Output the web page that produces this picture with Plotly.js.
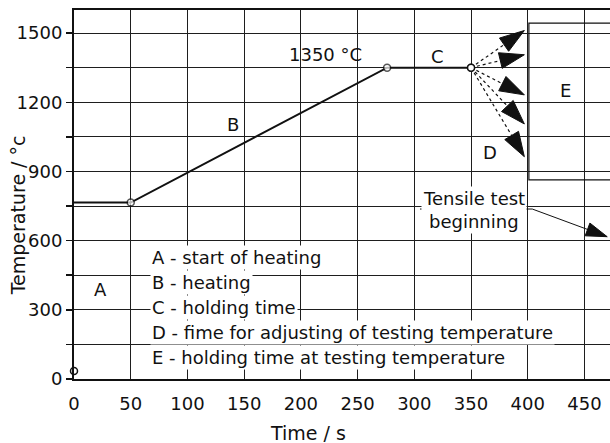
<!DOCTYPE html>
<html>
<head>
<meta charset="utf-8">
<script src="https://cdn.plot.ly/plotly-3.0.1.min.js"></script>
<style>html,body{margin:0;padding:0;background:#fff;}#chart{width:610px;height:443px;}</style>
</head>
<body>
<div id="chart"></div>
<script>
// ---- data ----
const startTime = [0];
const startTemp = [35];
const cycleTime = [0, 50, 276, 350];
const cycleTemp = [765, 765, 1350, 1350];
const cycleMarker = [0, 7, 7, 7];

const arrowStartTime = 350;
const arrowStartTemp = 1350;
const arrowTipTime = [397, 397, 397, 397, 397];
const arrowTipTemp = [1511, 1406, 1232, 1106, 964];

const tensileTime = [305, 404, 470];
const tensileTemp = [737, 737, 617];

const holdBoxTime = [401, 490];
const holdBoxTemp = [863, 1543];

const xTicks = [0, 50, 100, 150, 200, 250, 300, 350, 400, 450];
const yTicks = [0, 300, 600, 900, 1200, 1500];

const legendLines = [
  "A - start of heating",
  "B - heating",
  "C - holding time",
  "D - fime for adjusting of testing temperature",
  "E - holding time at testing temperature"
];
const legendTemp = [529, 420, 311, 202, 94];

const stageLabels = ["A", "B", "C", "D", "E", "1350 °C"];
const stageTime = [23, 140, 320, 367, 433, 222];
const stageTemp = [386, 1102, 1398, 982, 1249, 1405];

// ---- styles ----
const FONT = "DejaVu Sans";
const INK = "#111";
const GRID = "#1e1e1e";

const traces = [];
traces.push({
  x: cycleTime, y: cycleTemp, mode: "lines+markers", type: "scatter",
  line: {color: INK, width: 2},
  marker: {symbol: "circle", size: cycleMarker, color: "#fff", line: {color: INK, width: 1.5}},
  hoverinfo: "skip"
});
traces.push({
  x: startTime, y: startTemp, mode: "markers", type: "scatter",
  marker: {symbol: "circle", size: 7, color: "#fff", line: {color: INK, width: 1.5}},
  cliponaxis: false, hoverinfo: "skip"
});
for (let i = 0; i < arrowTipTime.length; i++) {
  traces.push({
    x: [arrowStartTime, arrowTipTime[i]], y: [arrowStartTemp, arrowTipTemp[i]],
    mode: "lines+markers", type: "scatter",
    line: {color: INK, width: 1.2, dash: "dot"},
    marker: {symbol: "arrow", angleref: "previous", size: [0, 26], color: INK, opacity: 1,
             line: {color: INK, width: 1}},
    cliponaxis: false, hoverinfo: "skip"
  });
}
traces.push({
  x: tensileTime, y: tensileTemp, mode: "lines+markers", type: "scatter",
  line: {color: INK, width: 1},
  marker: {symbol: "arrow", angleref: "previous", size: [0, 0, 22], color: INK, opacity: 1,
           line: {color: INK, width: 1}},
  cliponaxis: false, hoverinfo: "skip"
});
// circle at the end of holding, drawn over the arrow shafts
traces.push({
  x: [cycleTime[3]], y: [cycleTemp[3]], mode: "markers", type: "scatter",
  marker: {symbol: "circle", size: 7, color: "#fff", line: {color: INK, width: 1.5}},
  hoverinfo: "skip"
});

const annotations = [];
legendLines.forEach((t, i) => annotations.push({
  x: 67, y: legendTemp[i], xref: "x", yref: "y", text: t, showarrow: false,
  xanchor: "left", yanchor: "middle", bgcolor: "#fff", borderpad: 1,
  font: {family: FONT, size: 18, color: INK}
}));
stageLabels.forEach((t, i) => annotations.push({
  x: stageTime[i], y: stageTemp[i], xref: "x", yref: "y", text: t, showarrow: false,
  xanchor: "center", yanchor: "middle",
  font: {family: FONT, size: 18, color: INK}
}));
annotations.push({x: 306, y: 783, xref: "x", yref: "y", text: "Tensile test", showarrow: false,
  xanchor: "left", yanchor: "middle", bgcolor: "#fff", borderpad: 1,
  font: {family: FONT, size: 18, color: INK}});
annotations.push({x: 311, y: 685, xref: "x", yref: "y", text: "beginning", showarrow: false,
  xanchor: "left", yanchor: "middle", bgcolor: "#fff", borderpad: 1,
  font: {family: FONT, size: 18, color: INK}});
annotations.push({x: 206, y: -0.146, xref: "x", yref: "paper", text: "Time / s", showarrow: false,
  xanchor: "center", yanchor: "middle", font: {family: FONT, size: 19, color: INK}});
annotations.push({x: -0.104, y: 711, xref: "paper", yref: "y", text: "Temperature / °c", showarrow: false,
  textangle: -90, xanchor: "center", yanchor: "middle", font: {family: FONT, size: 19, color: INK}});

const layout = {
  width: 610, height: 443,
  margin: {l: 74, r: 0, t: 10, b: 64},
  paper_bgcolor: "#fff", plot_bgcolor: "#fff",
  showlegend: false,
  xaxis: {
    range: [0, 472.5], tickvals: xTicks, ticktext: xTicks.map(String),
    showgrid: true, gridcolor: GRID, gridwidth: 1,
    showline: true, linecolor: INK, linewidth: 2, mirror: true,
    ticks: "", zeroline: false, ticklabelstandoff: 7,
    tickfont: {family: FONT, size: 18, color: INK}
  },
  yaxis: {
    range: [0, 1600], tickvals: yTicks, ticktext: yTicks.map(String),
    showgrid: true, gridcolor: GRID, gridwidth: 1,
    showline: true, linecolor: INK, linewidth: 2,
    ticks: "outside", ticklen: 6, tickwidth: 1.5, tickcolor: INK,
    minor: {dtick: 150, tick0: 0, ticks: "outside", ticklen: 6, tickwidth: 1.5, tickcolor: INK,
            showgrid: true, gridcolor: GRID, gridwidth: 1},
    zeroline: false,
    tickfont: {family: FONT, size: 18, color: INK}
  },
  shapes: [{
    type: "rect", xref: "x", yref: "y",
    x0: holdBoxTime[0], x1: holdBoxTime[1], y0: holdBoxTemp[0], y1: holdBoxTemp[1],
    line: {color: INK, width: 1.2}, layer: "above"
  }],
  annotations: annotations
};

Plotly.newPlot("chart", traces, layout, {displayModeBar: false, staticPlot: true});
</script>
</body>
</html>
